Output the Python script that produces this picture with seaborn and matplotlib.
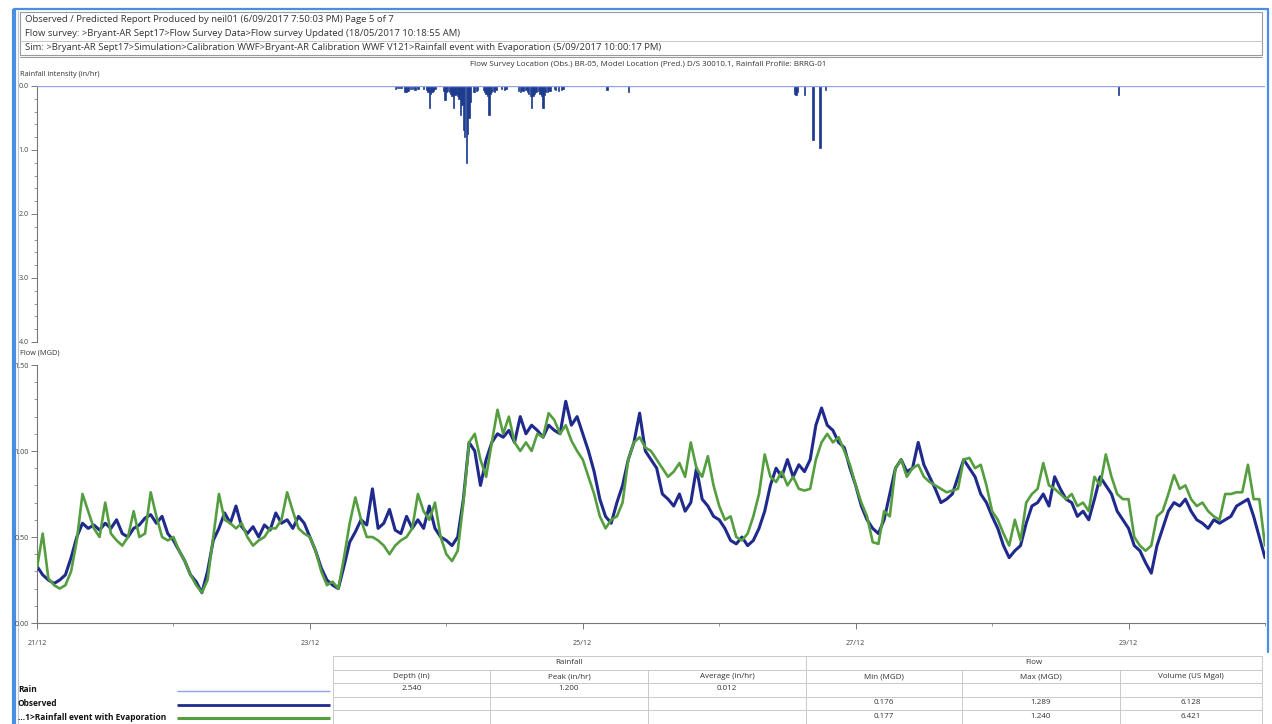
import pandas as pd
import matplotlib
matplotlib.use("Agg")
import matplotlib.pyplot as plt
import matplotlib.dates as mdates
from matplotlib.ticker import MultipleLocator, FormatStrFormatter
from matplotlib.patches import Rectangle
import seaborn as sns

# ---------------------------------------------------------------- data
start = pd.Timestamp("2016-12-21 00:00")
flow_hours = list(range(217))

observed_mgd = [
    0.33, 0.28, 0.25, 0.23, 0.25, 0.28, 0.38, 0.50, 0.58, 0.55, 0.57, 0.54,
    0.58, 0.55, 0.60, 0.52, 0.50, 0.55, 0.57, 0.61, 0.63, 0.58, 0.62, 0.52,
    0.48, 0.42, 0.36, 0.28, 0.24, 0.176, 0.30, 0.48, 0.55, 0.64, 0.58, 0.68,
    0.56, 0.52, 0.56, 0.50, 0.57, 0.54, 0.64, 0.58, 0.60, 0.55, 0.62, 0.58,
    0.50, 0.42, 0.32, 0.25, 0.22, 0.20, 0.33, 0.47, 0.53, 0.60, 0.57, 0.78,
    0.55, 0.58, 0.66, 0.54, 0.52, 0.62, 0.55, 0.60, 0.55, 0.68, 0.55, 0.50,
    0.48, 0.45, 0.50, 0.72, 1.05, 1.00, 0.80, 0.95, 1.05, 1.10, 1.08, 1.12,
    1.05, 1.20, 1.10, 1.15, 1.12, 1.08, 1.15, 1.12, 1.10, 1.289, 1.15, 1.20,
    1.10, 1.00, 0.88, 0.72, 0.62, 0.58, 0.70, 0.80, 0.95, 1.05, 1.22, 1.00,
    0.95, 0.90, 0.75, 0.72, 0.68, 0.75, 0.65, 0.70, 0.90, 0.72, 0.68, 0.62,
    0.60, 0.55, 0.48, 0.46, 0.50, 0.45, 0.48, 0.55, 0.65, 0.80, 0.90, 0.85,
    0.95, 0.85, 0.92, 0.88, 0.95, 1.15, 1.25, 1.15, 1.12, 1.05, 1.02, 0.90,
    0.80, 0.68, 0.60, 0.55, 0.52, 0.60, 0.75, 0.90, 0.95, 0.88, 0.90, 1.05,
    0.92, 0.85, 0.78, 0.70, 0.72, 0.75, 0.85, 0.95, 0.90, 0.85, 0.75, 0.70,
    0.62, 0.55, 0.45, 0.38, 0.42, 0.45, 0.58, 0.68, 0.70, 0.75, 0.68, 0.85,
    0.78, 0.72, 0.70, 0.62, 0.65, 0.60, 0.72, 0.85, 0.80, 0.75, 0.65, 0.60,
    0.55, 0.45, 0.42, 0.35, 0.29, 0.45, 0.55, 0.65, 0.70, 0.68, 0.72, 0.65,
    0.60, 0.58, 0.55, 0.60, 0.58, 0.60, 0.62, 0.68, 0.70, 0.72, 0.62, 0.50,
    0.38,
]

predicted_mgd = [
    0.32, 0.52, 0.26, 0.22, 0.20, 0.22, 0.30, 0.48, 0.75, 0.65, 0.55, 0.50,
    0.70, 0.52, 0.48, 0.45, 0.50, 0.65, 0.50, 0.52, 0.76, 0.62, 0.50, 0.48,
    0.50, 0.42, 0.36, 0.28, 0.22, 0.177, 0.25, 0.50, 0.75, 0.60, 0.58, 0.55,
    0.58, 0.50, 0.45, 0.48, 0.50, 0.55, 0.55, 0.60, 0.76, 0.65, 0.55, 0.52,
    0.50, 0.42, 0.30, 0.22, 0.24, 0.20, 0.38, 0.58, 0.73, 0.60, 0.50, 0.50,
    0.48, 0.45, 0.40, 0.45, 0.48, 0.50, 0.55, 0.75, 0.65, 0.60, 0.70, 0.50,
    0.40, 0.36, 0.42, 0.70, 1.05, 1.10, 0.95, 0.85, 1.05, 1.24, 1.10, 1.20,
    1.05, 1.00, 1.05, 1.00, 1.10, 1.08, 1.22, 1.18, 1.10, 1.15, 1.06, 1.00,
    0.95, 0.85, 0.75, 0.62, 0.55, 0.60, 0.62, 0.70, 0.95, 1.05, 1.08, 1.02,
    1.00, 0.95, 0.90, 0.85, 0.88, 0.93, 0.85, 1.05, 0.90, 0.85, 0.97, 0.80,
    0.68, 0.60, 0.62, 0.50, 0.48, 0.52, 0.62, 0.75, 0.98, 0.85, 0.82, 0.88,
    0.80, 0.85, 0.78, 0.77, 0.78, 0.95, 1.05, 1.10, 1.05, 1.08, 1.00, 0.92,
    0.80, 0.70, 0.62, 0.47, 0.46, 0.65, 0.62, 0.90, 0.95, 0.85, 0.90, 0.92,
    0.85, 0.82, 0.80, 0.78, 0.76, 0.77, 0.78, 0.95, 0.96, 0.90, 0.92, 0.80,
    0.65, 0.60, 0.52, 0.45, 0.60, 0.48, 0.70, 0.75, 0.78, 0.93, 0.80, 0.78,
    0.75, 0.72, 0.75, 0.68, 0.70, 0.65, 0.85, 0.80, 0.98, 0.85, 0.75, 0.72,
    0.72, 0.50, 0.45, 0.42, 0.45, 0.62, 0.65, 0.75, 0.86, 0.78, 0.80, 0.72,
    0.68, 0.70, 0.65, 0.62, 0.60, 0.75, 0.75, 0.76, 0.76, 0.92, 0.72, 0.72,
    0.45,
]

rain_hours = [
    63.0, 63.5, 64.0, 64.75, 65.0, 65.25, 65.75, 66.0, 66.5, 67.0,
    68.0, 68.5, 68.75, 69.0, 69.25, 69.5, 69.75, 70.0,
    71.5, 71.75, 72.0, 72.25, 72.5, 72.75, 73.0, 73.25, 73.5, 73.75, 74.0,
    74.25, 74.5, 74.75, 75.0, 75.25, 75.5, 75.75, 76.0, 76.25, 76.75, 77.0,
    77.25, 77.5,
    78.5, 78.75, 79.0, 79.25, 79.5, 79.75, 80.0, 80.25, 80.5, 80.75,
    81.75, 82.25, 82.5,
    84.75, 85.0, 85.25, 85.5, 86.0, 86.25, 86.5, 86.75, 87.0, 87.25, 87.5,
    87.75, 88.25, 88.5, 88.75, 89.0, 89.25, 89.5, 89.75, 90.0, 90.25,
    91.0, 91.25, 91.75, 92.25, 92.5,
    100.25, 104.0, 133.25, 133.5, 133.75, 135.0, 136.5, 137.75, 138.75,
    190.25,
]
rain_in_hr = [
    0.04, 0.03, 0.03, 0.09, 0.10, 0.08, 0.05, 0.04, 0.06, 0.04,
    0.05, 0.06, 0.10, 0.35, 0.12, 0.10, 0.08, 0.05,
    0.08, 0.22, 0.10, 0.08, 0.10, 0.12, 0.15, 0.35, 0.14, 0.12, 0.15,
    0.20, 0.45, 0.30, 0.69, 0.80, 1.20, 0.75, 0.50, 0.25, 0.10, 0.10,
    0.08, 0.06,
    0.06, 0.10, 0.12, 0.15, 0.45, 0.12, 0.10, 0.08, 0.10, 0.06,
    0.05, 0.06, 0.05,
    0.08, 0.10, 0.06, 0.08, 0.06, 0.10, 0.12, 0.15, 0.35, 0.15, 0.12,
    0.10, 0.08, 0.12, 0.15, 0.35, 0.14, 0.10, 0.10, 0.08, 0.08,
    0.05, 0.07, 0.08, 0.07, 0.05,
    0.06, 0.10, 0.12, 0.14, 0.10, 0.14, 0.84, 0.97, 0.07,
    0.14,
]

header_lines = [
    "Observed / Predicted Report Produced by neil01 (6/09/2017 7:50:03 PM) Page 5 of 7",
    "Flow survey: >Bryant-AR Sept17>Flow Survey Data>Flow survey Updated (18/05/2017 10:18:55 AM)",
    "Sim: >Bryant-AR Sept17>Simulation>Calibration WWF>Bryant-AR Calibration WWF V121>Rainfall event with Evaporation (5/09/2017 10:00:17 PM)",
]
location_text = ("Flow Survey Location (Obs.) BR-05, Model Location (Pred.) D/S 30010.1, "
                 "Rainfall Profile: BRRG-01")
series_names = ["Rain", "Observed", "...1>Rainfall event with Evaporation"]
group_headers = ["Rainfall", "Flow"]
column_headers = ["Depth (in)", "Peak (in/hr)", "Average (in/hr)",
                  "Min (MGD)", "Max (MGD)", "Volume (US Mgal)"]
table_rows = [
    ["2.540", "1.200", "0.012", "", "", ""],
    ["", "", "", "0.176", "1.289", "6.128"],
    ["", "", "", "0.177", "1.240", "6.421"],
]

# ---------------------------------------------------------------- style
sns.set_theme(style="white")
plt.rcParams["font.family"] = ["Open Sans", "DejaVu Sans"]

OBS_C = "#1f2a8c"
PRED_C = "#559e3f"
RAIN_C = "#1b3a8e"
RAIN_LINE = "#8fa3e6"
FRAME_BLUE = "#4a8ee0"
GRID_GREY = "#c9c9c9"
TXT = "#333333"

W, H = 1272, 724
fig = plt.figure(figsize=(W / 100, H / 100), dpi=100)
fig.patch.set_facecolor("white")

# overlay in pixel coordinates for the report frame, header and table
ov = fig.add_axes([0, 0, 1, 1], zorder=0)
ov.set_xlim(0, W)
ov.set_ylim(H, 0)
ov.axis("off")


def px_axes(left, top, right, bottom):
    return fig.add_axes([left / W, (H - bottom) / H, (right - left) / W,
                         (bottom - top) / H], zorder=2)


# report frame
ov.plot([14, 14], [9, H], color=FRAME_BLUE, lw=3.0, solid_capstyle="butt")
ov.plot([14, 1268], [9, 9], color=FRAME_BLUE, lw=1.6)
ov.plot([1268, 1268], [9, 652], color=FRAME_BLUE, lw=1.6)
ov.plot([18, 18], [11, H], color="#b8c7dc", lw=0.8)

# header box
ov.add_patch(Rectangle((20, 12), 1242, 43, fill=False, ec="#9a9a9a", lw=0.8))
ov.plot([20, 1262], [41, 41], color="#bdbdbd", lw=0.6)
for y, line in zip([19, 34, 48], header_lines):
    ov.text(25, y, line, fontsize=6.8, color=TXT, va="center", ha="left")

ov.plot([20, 1262], [57, 57], color="#9a9a9a", lw=0.8)
ov.text(648, 64, location_text, fontsize=5.8, color=TXT, ha="center", va="center")
ov.text(20, 74, "Rainfall intensity (in/hr)", fontsize=5.3, color=TXT, va="center")
ov.text(20, 353, "Flow (MGD)", fontsize=5.3, color=TXT, va="center")

# ---------------------------------------------------------------- rainfall
rain_times = [start + pd.Timedelta(hours=h) for h in rain_hours]
t0, t1 = start, start + pd.Timedelta(days=9)

ax_r = px_axes(37, 86, 1265, 342)
ax_r.set_facecolor("none")
ax_r.bar(rain_times, rain_in_hr, width=pd.Timedelta(minutes=14),
         color=RAIN_C, edgecolor=RAIN_C, linewidth=0.5, align="center")
ax_r.axhline(0, color=RAIN_LINE, lw=1.0, zorder=3)
ax_r.set_xlim(t0, t1)
ax_r.set_ylim(4.0, 0.0)
ax_r.yaxis.set_major_locator(MultipleLocator(1.0))
ax_r.yaxis.set_minor_locator(MultipleLocator(0.2))
ax_r.yaxis.set_major_formatter(FormatStrFormatter("%.1f"))
ax_r.set_xticks([])
for side in ["top", "right", "bottom"]:
    ax_r.spines[side].set_visible(False)
ax_r.spines["left"].set_color("#777777")
ax_r.spines["left"].set_linewidth(0.8)
ax_r.tick_params(axis="y", which="major", direction="out", length=4, width=0.7,
                 color="#777777", labelsize=5.2, labelcolor="#444444", pad=2, left=True)
ax_r.tick_params(axis="y", which="minor", direction="out", length=2, width=0.6,
                 color="#888888", left=True)
ax_r.set_xlabel("")
ax_r.set_ylabel("")

# ---------------------------------------------------------------- flow
flow_df = pd.DataFrame({
    "time": [start + pd.Timedelta(hours=h) for h in flow_hours],
    "Observed": observed_mgd,
    "Predicted": predicted_mgd,
})

ax_f = px_axes(37, 365, 1265, 623)
ax_f.set_facecolor("none")
sns.lineplot(data=flow_df, x="time", y="Observed", ax=ax_f, color=OBS_C,
             lw=2.2, zorder=3)
sns.lineplot(data=flow_df, x="time", y="Predicted", ax=ax_f, color=PRED_C,
             lw=1.9, zorder=4)
ax_f.set_xlim(t0, t1)
ax_f.set_ylim(0, 1.5)
ax_f.yaxis.set_major_locator(MultipleLocator(0.5))
ax_f.yaxis.set_minor_locator(MultipleLocator(0.1))
ax_f.yaxis.set_major_formatter(FormatStrFormatter("%.2f"))
ax_f.xaxis.set_major_locator(mdates.DayLocator(bymonthday=[21, 23, 25, 27, 29]))
ax_f.xaxis.set_minor_locator(mdates.DayLocator())
ax_f.xaxis.set_major_formatter(mdates.DateFormatter("%d/%m"))
for side in ["top", "right"]:
    ax_f.spines[side].set_visible(False)
for side in ["left", "bottom"]:
    ax_f.spines[side].set_color("#777777")
    ax_f.spines[side].set_linewidth(0.8)
ax_f.tick_params(axis="both", which="major", direction="out", length=4, width=0.7,
                 color="#777777", labelsize=5.2, labelcolor="#444444", pad=2,
                 left=True, bottom=True)
ax_f.tick_params(axis="both", which="minor", direction="out", length=2, width=0.6,
                 color="#888888", left=True, bottom=True)
ax_f.tick_params(axis="x", which="major", pad=8)
ax_f.set_xlabel("")
ax_f.set_ylabel("")
ax_f.grid(False)

# ---------------------------------------------------------------- summary table
col_x = [333, 490, 648, 806, 962, 1120, 1262]
row_y = [656, 670, 683, 697, 710, 724]
for y in row_y:
    ov.plot([333, 1262], [y, y], color=GRID_GREY, lw=0.7)
for x in [333, 806, 1262]:
    ov.plot([x, x], [row_y[0], H], color=GRID_GREY, lw=0.7)
for x in col_x[1:-1]:
    if x != 806:
        ov.plot([x, x], [row_y[1], H], color=GRID_GREY, lw=0.7)

TFS = 5.8
ov.text((333 + 806) / 2, 663, group_headers[0], fontsize=TFS, color=TXT,
        ha="center", va="center")
ov.text((806 + 1262) / 2, 663, group_headers[1], fontsize=TFS, color=TXT,
        ha="center", va="center")
for i, hdr in enumerate(column_headers):
    cx = (col_x[i] + col_x[i + 1]) / 2
    ov.text(cx, 677, hdr, fontsize=TFS, color=TXT, ha="center", va="center")
for r, row in enumerate(table_rows):
    yc = (row_y[r + 2] + row_y[r + 3]) / 2 - 1
    for i, val in enumerate(row):
        if val:
            cx = (col_x[i] + col_x[i + 1]) / 2
            ov.text(cx, yc, val, fontsize=TFS, color=TXT, ha="center", va="center")

# legend swatches
legend_styles = [(RAIN_LINE, 1.0), (OBS_C, 2.0), (PRED_C, 2.2)]
for r, (name, (c, lw)) in enumerate(zip(series_names, legend_styles)):
    yc = (row_y[r + 2] + row_y[r + 3]) / 2
    ov.text(18, yc, name, fontsize=6.0, color="#111111", fontweight="bold",
            ha="left", va="center")
    ov.plot([177, 330], [yc + 1, yc + 1], color=c, lw=lw, solid_capstyle="butt")

fig.savefig("out.png", dpi=100, facecolor="white")
